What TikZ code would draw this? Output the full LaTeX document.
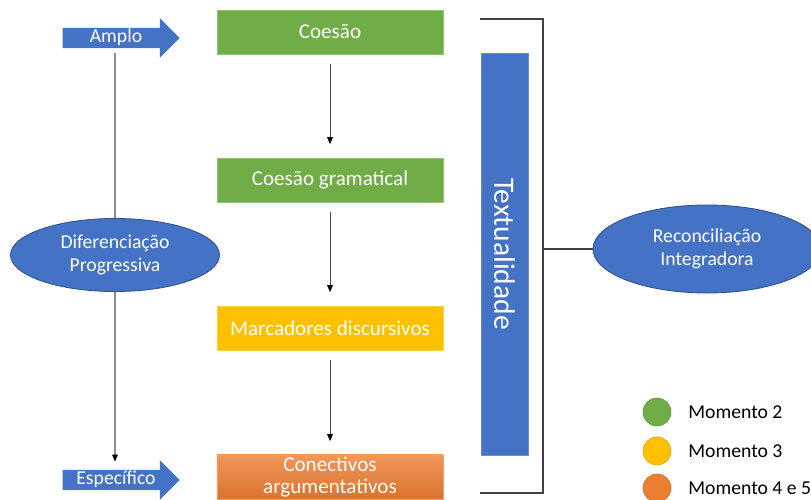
\documentclass[tikz,border=0pt]{standalone}
\usepackage{fontspec}
\setmainfont{Carlito}
\usepackage{xcolor}
\usepackage{tikz}
\usetikzlibrary{arrows.meta, positioning, shapes.geometric, shapes.arrows, backgrounds}

\definecolor{greenTone}{RGB}{112,173,71}
\definecolor{goldTone}{RGB}{255,192,0}
\definecolor{orangeTone}{RGB}{237,125,49}
\definecolor{blueTone}{RGB}{68,114,196}

\begin{document}
\begin{tikzpicture}[
    x=0.025cm, y=-0.025cm,
    >=Stealth,
    every node/.style={font=\fontsize{14}{16}\selectfont, align=center, text=white},
    stage/.style={
      rectangle, draw=#1!75!white, fill=#1, line width=0.6pt,
      minimum width=5.65cm, minimum height=1.1cm, inner sep=1pt,
      font=\fontsize{15}{16}\selectfont
    },
    levelArrow/.style={
      single arrow, single arrow head extend=6.8pt, single arrow tip angle=90,
      single arrow head indent=0pt, fill=blueTone, draw=none,
      minimum height=2.925cm, inner xsep=2pt, inner ysep=1pt,
      text height=9pt, text depth=3pt
    },
    concept/.style={
      ellipse, fill=blueTone, draw=blueTone!70!black, line width=0.6pt, inner sep=0pt
    },
    bar/.style={
      rectangle, fill=blueTone, draw=blueTone!80!white, line width=0.6pt, inner sep=0pt,
      font=\fontsize{21}{24}\selectfont
    },
    flow/.style={-{Triangle[length=5pt,width=4pt,black]}, draw=black!70, line width=0.6pt,
      shorten <=6.5pt, shorten >=9.5pt},
    guide/.style={-{Triangle[length=5pt,width=4pt,black]}, draw=black!45, line width=0.8pt},
    bracket/.style={draw=black!75, line width=0.8pt},
    legendDot/.style={circle, minimum size=0.7cm, inner sep=0pt, fill=#1, draw=#1!85!black, line width=0.4pt},
    legendText/.style={text=black, inner sep=0pt}
  ]
    \useasboundingbox (0,0) rectangle (811,500);
    \clip (0,0) rectangle (811,500);

    % escala de abrangencia
    \node[levelArrow] (amplo) at (116,38) {Amplo};
    \node[levelArrow] (especifico) at (116,480) {Específico};
    \node[concept, minimum width=5.225cm, minimum height=1.825cm] (difer) at (115,255) {Diferenciação\\Progressiva};

    % etapas
    \node[stage=greenTone] (coesao) at (330,32) {Coesão};
    \node[stage=greenTone] (gramatical) at (330,180) {Coesão gramatical};
    \node[stage=goldTone] (marcadores) at (330,328) {Marcadores discursivos};
    \node[stage=orangeTone, top color=orangeTone!80!white, bottom color=orangeTone!92!black] (conectivos) at (330,477) {Conectivos\\argumentativos};

    \draw[flow] (coesao) -- (gramatical);
    \draw[flow] (gramatical) -- (marcadores);
    \draw[flow] (marcadores) -- (conectivos);

    \begin{scope}[on background layer]
      \draw[guide, shorten <=3.5pt, shorten >=5.7pt] (amplo.south -| difer) -- (especifico.north -| difer);
    \end{scope}

    % textualidade e reconciliacao
    \node[bar, rotate=-90, minimum width=10.05cm, minimum height=1.175cm] (textual) at (504.5,254) {Textualidade};
    \draw[bracket] (480,19) -- (543,19) -- (543,493) -- (480,493);
    \coordinate (brk) at (543,249);
    \node[concept, minimum width=5.7cm, minimum height=2.2cm] (reconc) at (707,249) {Reconciliação\\Integradora};
    \draw[bracket] (brk) -- (reconc.west);

    % legenda
    \node[legendDot=greenTone] (dotA) at (657,412) {};
    \node[legendDot=goldTone] (dotB) at (657,451) {};
    \node[legendDot=orangeTone] (dotC) at (657,488) {};
    \node[legendText, right=0.42cm of dotA] {Momento 2};
    \node[legendText, right=0.42cm of dotB] {Momento 3};
    \node[legendText, right=0.42cm of dotC] {Momento 4 e 5};
  \end{tikzpicture}
\end{document}
